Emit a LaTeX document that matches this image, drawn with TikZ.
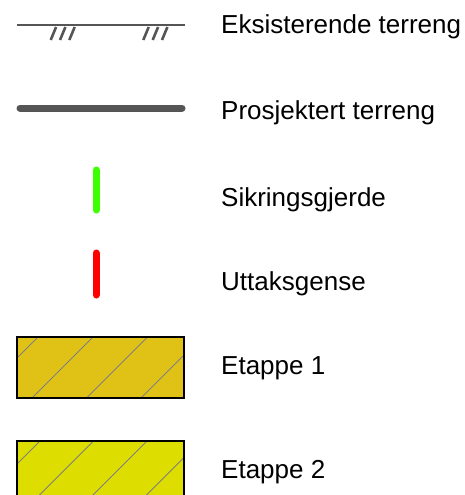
\documentclass[tikz,border=0pt]{standalone}
\usepackage{fontspec}
\setmainfont{Liberation Sans}
\usepackage{tikz}
\definecolor{terraingray}{HTML}{555555}
\definecolor{fencegreen}{HTML}{3CFF00}
\definecolor{limitred}{HTML}{FF0000}
\definecolor{stageone}{HTML}{E0C216}
\definecolor{stagetwo}{HTML}{DDDD00}
\definecolor{hatchgray}{HTML}{808080}

\begin{document}
\begin{tikzpicture}[
  x=1pt, y=-1pt,
  label/.style={
    anchor=base west,
    inner sep=0pt,
    font=\fontsize{26}{30}\selectfont
  },
  existing/.style={draw=terraingray, line width=2.6pt},
  projected/.style={draw=terraingray, line width=7pt, line cap=round},
  marker/.style={line width=7pt, line cap=round},
  stagebox/.style={draw=black, line width=2pt},
  hatch/.style={draw=hatchgray, line width=0.8pt}
]

\useasboundingbox (0,0) rectangle (464,495);

% existing terrain
\draw[existing] (17,25) -- (185,25);
\foreach \x in {50.7,60,69.3,143.3,152.7,162}
  \draw[existing] (\x,40) -- ++(5.4,-13);

% projected terrain
\draw[projected] (20,108) -- (182,108);

% fence and limit
\draw[marker, fencegreen] (96,170) -- (96,210);
\draw[marker, limitred] (96,253) -- (96,295);

% stage 1
\fill[stageone] (17,337) rectangle (184,398);
\begin{scope}
  \clip (17,337) rectangle (184,398);
  \foreach \c in {375,430,484.5,539}
    \draw[hatch] (\c-400,400) -- (\c-330,330);
\end{scope}
\draw[stagebox] (17,337) rectangle (184,398);

% stage 2
\fill[stagetwo] (17,441) rectangle (184,500);
\begin{scope}
  \clip (17,441) rectangle (184,500);
  \foreach \c in {481,534.5,588,641.5}
    \draw[hatch] (\c-500,500) -- (\c-430,430);
\end{scope}
\draw[stagebox] (17,441) rectangle (184,500);

\node[label] (existingtxt) at (221,34) {Eksisterende terreng};
\node[label] (projectedtxt) at (221,119.5) {Prosjektert terreng};
\node[label] (fencetxt) at (221,206.5) {Sikringsgjerde};
\node[label] (limittxt) at (221,290.5) {Uttaksgense};
\node[label] (stageonetxt) at (221,374) {Etappe 1};
\node[label] (stagetwotxt) at (221,478.5) {Etappe 2};

\end{tikzpicture}
\end{document}
